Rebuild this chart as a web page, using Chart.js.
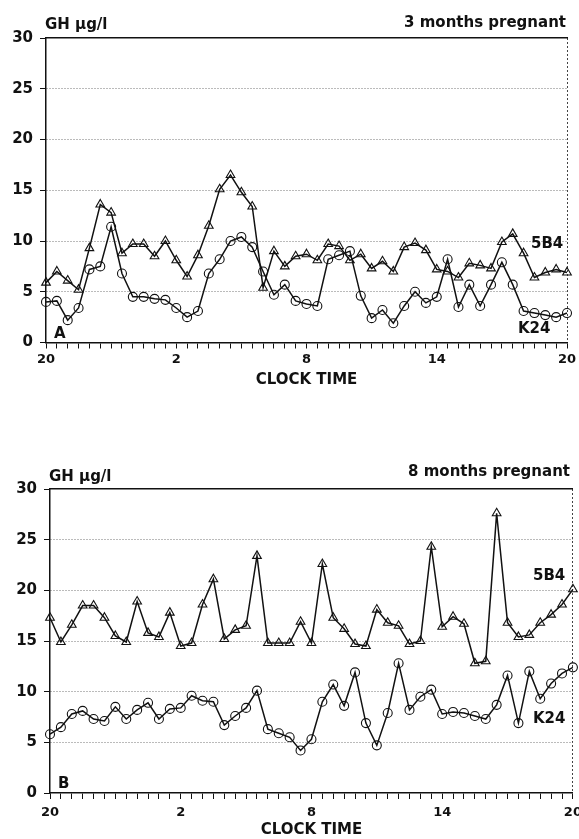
<!DOCTYPE html>
<html>
<head>
<meta charset="utf-8">
<script src="https://cdn.jsdelivr.net/npm/chart.js@4.4.1/dist/chart.umd.min.js"></script>
<style>
  body { margin: 0; background: #fff; width: 579px; height: 839px; position: relative; overflow: hidden;
         font-family: 'DejaVu Sans', sans-serif; color: #111; }
  canvas { position: absolute; left: 0; }
  .t { position: absolute; font-size: 15px; font-weight: bold; line-height: 1; white-space: nowrap; }
</style>
</head>
<body>
<canvas id="chartA" width="579" height="410" style="top:0"></canvas>
<canvas id="chartB" width="579" height="409" style="top:430px"></canvas>

<div class="t" style="left:45px;top:17px">GH µg/l</div>
<div class="t" style="right:13px;top:15px">3 months pregnant</div>
<div class="t" style="left:531px;top:236px">5B4</div>
<div class="t" style="left:518px;top:321px">K24</div>
<div class="t" style="left:54px;top:326px">A</div>

<div class="t" style="left:49px;top:469px">GH µg/l</div>
<div class="t" style="right:9px;top:464px">8 months pregnant</div>
<div class="t" style="left:533px;top:568px">5B4</div>
<div class="t" style="left:533px;top:711px">K24</div>
<div class="t" style="left:58px;top:776px">B</div>

<script>
// samples every half hour, 20:00 -> 20:00 next day
const clockTimes = [];
for (let i = 0; i <= 48; i++) clockTimes.push(String((20 + i / 2) % 24));
const tickLabels = ['20', '2', '8', '14', '20'];

// A: 3 months pregnant
const a5B4 = [5.9, 7.0, 6.1, 5.2, 9.3, 13.6, 12.8, 8.8, 9.7, 9.7, 8.5, 10.0, 8.1, 6.5, 8.6, 11.5, 15.1, 16.5, 14.8, 13.4,
  5.4, 9.0, 7.5, 8.5, 8.7, 8.1, 9.7, 9.5, 8.1, 8.7, 7.3, 8.0, 7.0, 9.4, 9.8, 9.1, 7.2, 7.0, 6.4, 7.8,
  7.6, 7.3, 9.9, 10.7, 8.8, 6.4, 6.9, 7.2, 6.9];
const aK24 = [4.0, 4.1, 2.2, 3.4, 7.2, 7.5, 11.4, 6.8, 4.5, 4.5, 4.3, 4.2, 3.4, 2.5, 3.1, 6.8, 8.2, 10.0, 10.4, 9.4,
  7.0, 4.7, 5.7, 4.1, 3.8, 3.6, 8.2, 8.6, 9.0, 4.6, 2.4, 3.2, 1.9, 3.6, 5.0, 3.9, 4.5, 8.2, 3.5, 5.7,
  3.6, 5.7, 7.9, 5.7, 3.1, 2.9, 2.7, 2.5, 2.9];

// B: 8 months pregnant
const b5B4 = [17.3, 14.9, 16.6, 18.5, 18.5, 17.3, 15.5, 14.9, 18.9, 15.8, 15.4, 17.8, 14.5, 14.8, 18.6, 21.1, 15.2, 16.1, 16.5, 23.4,
  14.8, 14.8, 14.8, 16.9, 14.8, 22.6, 17.3, 16.2, 14.7, 14.5, 18.1, 16.8, 16.5, 14.7, 15.0, 24.3, 16.4, 17.4, 16.7, 12.8,
  13.0, 27.6, 16.8, 15.4, 15.6, 16.8, 17.6, 18.6, 20.1];
const bK24 = [5.8, 6.5, 7.8, 8.1, 7.3, 7.1, 8.5, 7.3, 8.2, 8.9, 7.3, 8.3, 8.4, 9.6, 9.1, 9.0, 6.7, 7.6, 8.4, 10.1,
  6.3, 5.9, 5.5, 4.2, 5.3, 9.0, 10.7, 8.6, 11.9, 6.9, 4.7, 7.9, 12.8, 8.2, 9.5, 10.2, 7.8, 8.0, 7.9, 7.6,
  7.3, 8.7, 11.6, 6.9, 12.0, 9.3, 10.8, 11.8, 12.4];

Chart.defaults.font.family = "'DejaVu Sans', sans-serif";
Chart.defaults.font.weight = 'bold';
Chart.defaults.color = '#111';

function makeChart(id, s5B4, sK24, g) {
  new Chart(document.getElementById(id), {
    type: 'line',
    data: {
      labels: clockTimes,
      datasets: [{
        label: '5B4',
        data: s5B4,
        borderColor: '#111',
        borderWidth: 1.5,
        pointStyle: 'triangle',
        pointRadius: 5,
        pointBackgroundColor: 'rgba(0,0,0,0)',
        pointBorderColor: '#111',
        pointBorderWidth: 1.1
      }, {
        label: 'K24',
        data: sK24,
        borderColor: '#111',
        borderWidth: 1.5,
        pointStyle: 'circle',
        pointRadius: 4.5,
        pointBackgroundColor: 'rgba(0,0,0,0)',
        pointBorderColor: '#111',
        pointBorderWidth: 1.1
      }]
    },
    options: {
      responsive: false,
      animation: false,
      layout: { padding: { left: 0, right: 579 - g.right, top: g.top, bottom: 0 } },
      plugins: { legend: { display: false }, tooltip: { enabled: false } },
      scales: {
        x: {
          type: 'category',
          offset: false,
          grid: {
            color: c => c.index === 48 ? '#444' : 'rgba(0,0,0,0)',
            tickColor: '#111',
            tickLength: 6
          },
          border: { color: '#111', width: 1.5, dash: [2, 2] },
          ticks: {
            autoSkip: false,
            maxRotation: 0,
            padding: g.tickPad,
            font: { size: 13 },
            callback: (v, i) => i % 12 === 0 ? tickLabels[i / 12] : ''
          },
          title: { display: true, text: 'CLOCK TIME', font: { size: 15 }, padding: { top: 0, bottom: g.titlePad } },
          afterFit: s => { s.height = g.axisH; s.paddingLeft = 0; s.paddingRight = 0; }
        },
        x2: {
          type: 'linear',
          position: 'top',
          min: 0,
          max: 1,
          ticks: { display: false },
          grid: { display: false },
          border: { color: '#111', width: 1.5 },
          afterFit: s => { s.height = 0; }
        },
        y: {
          min: 0,
          max: 30,
          ticks: { stepSize: 5, padding: 7, font: { size: 15 } },
          grid: {
            color: c => (c.tick.value === 0 || c.tick.value === 30) ? 'rgba(0,0,0,0)' : '#777',
            tickColor: '#111',
            tickLength: 6
          },
          border: { color: '#111', width: 1.5, dash: [1, 2] },
          afterFit: s => { s.width = g.left; s.paddingTop = 0; s.paddingBottom = 0; }
        }
      }
    }
  });
}

makeChart('chartA', a5B4, aK24, { left: 46, right: 567, top: 38, axisH: 67.5, tickPad: 3, titlePad: 21 });
makeChart('chartB', b5B4, bK24, { left: 50, right: 573, top: 59, axisH: 46, tickPad: 6, titlePad: 0 });
</script>
</body>
</html>
